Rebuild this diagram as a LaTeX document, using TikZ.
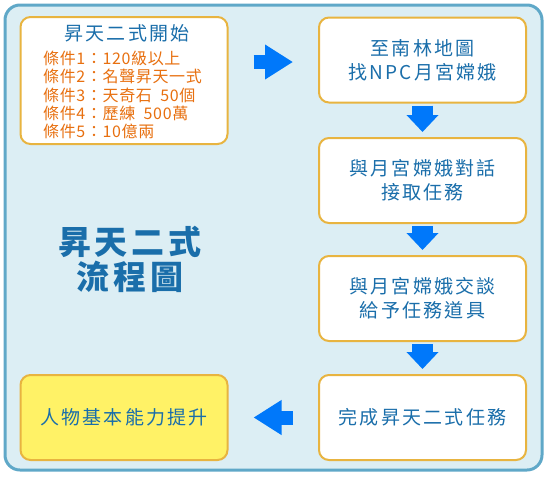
\documentclass[tikz,border=0pt]{standalone}
\usepackage{fontspec}
\setmainfont{Noto Sans CJK TC}
\newfontfamily\boxfont[LetterSpace=12]{Noto Sans CJK TC}
\newfontfamily\condfont[LetterSpace=4]{Noto Sans CJK TC}
\newfontfamily\headfont[LetterSpace=12]{Noto Sans CJK TC}
\usetikzlibrary{arrows.meta}

\definecolor{panelfill}{RGB}{220,238,244}
\definecolor{panelline}{RGB}{95,168,200}
\definecolor{boxline}{RGB}{232,180,64}
\definecolor{textblue}{RGB}{26,110,170}
\definecolor{textorange}{RGB}{232,112,16}
\definecolor{arrowblue}{RGB}{0,120,250}
\definecolor{goalfill}{RGB}{255,242,102}

\begin{document}
\begin{tikzpicture}[
  x=1pt, y=-1pt,
  box/.style={draw=boxline, line width=2pt, rounded corners=10pt, fill=white, minimum width=207pt, minimum height=85pt, align=center, inner sep=0pt, text=textblue, font=\boxfont\fontsize{19}{24}\selectfont},
  downarrow/.style={draw=arrowblue, line width=21pt, -{Triangle[width=31pt, length=17pt]}, shorten <=2pt, shorten >=5pt},
  sidearrow/.style={draw=arrowblue, line width=14pt, -{Triangle[width=33pt, length=28pt]}, shorten <=25pt, shorten >=25pt}
]
\useasboundingbox (0,0) rectangle (548,480);

% Panel
\draw[draw=panelline, fill=panelfill, line width=3pt, rounded corners=15pt] (5,5) rectangle (542,470);

% Nodes
\node[box, minimum height=127pt] (start) at (124,80.5) {};
\node[text=textblue, font=\boxfont\fontsize{19}{24}\selectfont] (starttitle) at (127,33) {昇天二式開始};
\node[anchor=north west, align=left, inner sep=0pt, text=textorange, font=\condfont\fontsize{16}{18.2}\selectfont] (cond) at (43,51)
  {條件1：120級以上\\條件2：名聲昇天一式\\條件3：天奇石\ \ 50個\\條件4：歷練\ \ 500萬\\條件5：10億兩};

\node[box] (map) at (422.5,60) {至南林地圖\\找NPC月宮嫦娥};
\node[box] (talk) at (422.5,180.5) {與月宮嫦娥對話\\接取任務};
\node[box] (item) at (422.5,298.5) {與月宮嫦娥交談\\給予任務道具};
\node[box] (done) at (422.5,417.5) {完成昇天二式任務};
\node[box, fill=goalfill] (goal) at (124,417.5) {人物基本能力提升};

\node[text=textblue, align=center, font=\headfont\bfseries\fontsize{33}{35}\selectfont] (head) at (130,259.5) {昇天二式\\流程圖};

% Arrows
\draw[sidearrow] ([yshift=-2pt]map.west -| start.east) -- ([yshift=-2pt]map.west);
\draw[downarrow] (map) -- (talk);
\draw[downarrow] (talk) -- (item);
\draw[downarrow] (item) -- (done);
\draw[sidearrow] (done.west) -- (goal.east);

\end{tikzpicture}
\end{document}
